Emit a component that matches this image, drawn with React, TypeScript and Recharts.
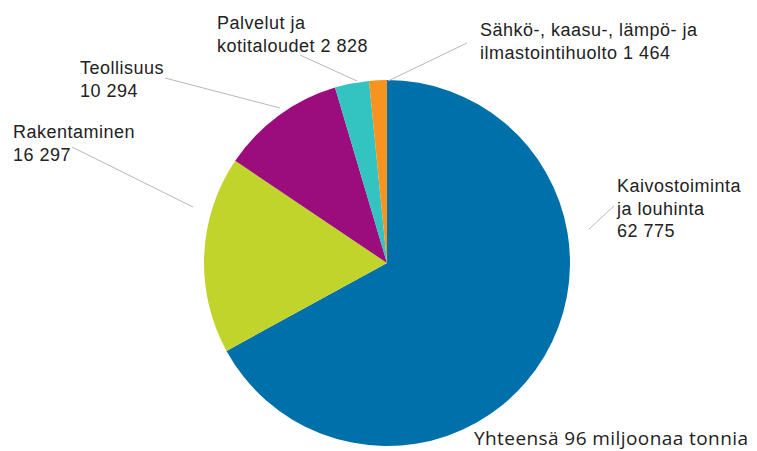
import React from 'react';
import { PieChart, Pie, Cell } from 'recharts';

const categories = [
  'Kaivostoiminta ja louhinta',
  'Rakentaminen',
  'Teollisuus',
  'Palvelut ja kotitaloudet',
  'Sähkö-, kaasu-, lämpö- ja ilmastointihuolto',
];
const values = [62775, 16297, 10294, 2828, 1464];
const labelLines = [
  ['Kaivostoiminta', 'ja louhinta', '62 775'],
  ['Rakentaminen', '16 297'],
  ['Teollisuus', '10 294'],
  ['Palvelut ja', 'kotitaloudet 2 828'],
  ['Sähkö-, kaasu-, lämpö- ja', 'ilmastointihuolto 1 464'],
];
const colors = ['#0070aa', '#c0d42c', '#9b0d7c', '#33c3c0', '#f7931e'];
const totalLabel = 'Yhteensä 96 miljoonaa tonnia';

// where each label sits and where its leader line runs
const labelLayout = [
  { x: 617, y: 192, line: [589, 229, 614, 206] },
  { x: 13, y: 138, line: [72, 147, 193, 207] },
  { x: 80, y: 74, line: [165, 78, 280, 108] },
  { x: 217, y: 29, line: [300, 55, 357, 81] },
  { x: 480, y: 36, line: [467, 43, 388, 81] },
];

const data = categories.map((name, i) => ({ name, value: values[i] }));

const renderLabel = (props: any) => {
  const { index } = props;
  const l = labelLayout[index];
  const [x1, y1, x2, y2] = l.line;
  return (
    <g key={`lbl-${index}`}>
      <line x1={x1} y1={y1} x2={x2} y2={y2} stroke="#b8b8b8" strokeWidth={1} />
      <text
        x={l.x}
        y={l.y}
        fontFamily="Liberation Sans, Arial, sans-serif"
        fontSize={18}
        letterSpacing={0.5}
        fill="#222"
      >
        {labelLines[index].map((t, j) => (
          <tspan key={j} x={l.x} dy={j === 0 ? 0 : 22.5}>
            {t}
          </tspan>
        ))}
      </text>
    </g>
  );
};

export default function App() {
  return (
    <div style={{ position: 'absolute', left: 0, top: 0, width: 757, height: 451, background: '#fff' }}>
      <PieChart width={757} height={451} margin={{ top: 0, right: 0, bottom: 0, left: 0 }}>
        <Pie
          data={data}
          dataKey="value"
          nameKey="name"
          cx={387}
          cy={263}
          outerRadius={183}
          startAngle={90}
          endAngle={-270}
          stroke="none"
          isAnimationActive={false}
          labelLine={false}
          label={renderLabel}
        >
          {data.map((d, i) => (
            <Cell key={d.name} fill={colors[i]} />
          ))}
        </Pie>
        <text
          x={474}
          y={445}
          fontFamily="Open Sans, sans-serif"
          fontSize={19}
          textLength={274}
          lengthAdjust="spacing"
          fill="#222"
        >
          {totalLabel}
        </text>
      </PieChart>
    </div>
  );
}
